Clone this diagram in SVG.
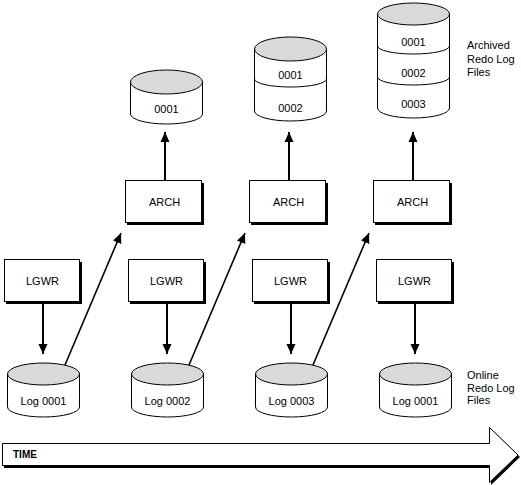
<svg xmlns="http://www.w3.org/2000/svg" width="521" height="485" viewBox="0 0 521 485">
<style>
.box{fill:#fff;stroke:#000;stroke-width:1}
.sh{fill:#000}
.t{font-family:"Liberation Sans",Arial,sans-serif;font-size:11px;fill:#000}
.c{text-anchor:middle}
.body{fill:#fff;stroke:#000;stroke-width:1}
.top{fill:#d9d9d9;stroke:#000;stroke-width:1}
.div{fill:none;stroke:#000;stroke-width:1}
.ln{stroke:#000;stroke-width:2;fill:none}
.dg{stroke:#000;stroke-width:1.6;fill:none}
</style>
<defs>
<marker id="ah" markerUnits="userSpaceOnUse" markerWidth="11" markerHeight="10" refX="10" refY="5" orient="auto" viewBox="0 0 11 10">
<path d="M0,0.5 L10,5 L0,9.5 z" fill="#000"/>
</marker>
</defs>
<rect width="521" height="485" fill="#fff"/>

<!-- LGWR boxes -->
<g id="lgwr1"><rect class="sh" x="6" y="262" width="76" height="42"/><rect class="box" x="4.5" y="259.5" width="75" height="42"/><text class="t c" x="42.5" y="285">LGWR</text></g>
<g id="lgwr2"><rect class="sh" x="130" y="262" width="76" height="42"/><rect class="box" x="128.5" y="259.5" width="75" height="42"/><text class="t c" x="166.5" y="285">LGWR</text></g>
<g id="lgwr3"><rect class="sh" x="254" y="262" width="76" height="42"/><rect class="box" x="252.5" y="259.5" width="75" height="42"/><text class="t c" x="290.5" y="285">LGWR</text></g>
<g id="lgwr4"><rect class="sh" x="378" y="262" width="76" height="42"/><rect class="box" x="376.5" y="259.5" width="75" height="42"/><text class="t c" x="414.5" y="285">LGWR</text></g>

<!-- ARCH boxes -->
<g id="arch1"><rect class="sh" x="127" y="183" width="77" height="42"/><rect class="box" x="125.5" y="180.5" width="76" height="42"/><text class="t c" x="164.5" y="206">ARCH</text></g>
<g id="arch2"><rect class="sh" x="251" y="183" width="77" height="42"/><rect class="box" x="249.5" y="180.5" width="76" height="42"/><text class="t c" x="288.5" y="206">ARCH</text></g>
<g id="arch3"><rect class="sh" x="375" y="183" width="77" height="42"/><rect class="box" x="373.5" y="180.5" width="76" height="42"/><text class="t c" x="412.5" y="206">ARCH</text></g>

<!-- Online redo log cylinders -->
<g id="log1"><path class="body" d="M7.5,374 L7.5,407 A36,10 0 0 0 79.5,407 L79.5,374 Z"/><ellipse class="top" cx="43.5" cy="374" rx="36" ry="11"/><text class="t c" x="43.5" y="405">Log 0001</text></g>
<g id="log2"><path class="body" d="M131.5,374 L131.5,407 A36,10 0 0 0 203.5,407 L203.5,374 Z"/><ellipse class="top" cx="167.5" cy="374" rx="36" ry="11"/><text class="t c" x="167.5" y="405">Log 0002</text></g>
<g id="log3"><path class="body" d="M255.5,374 L255.5,407 A36,10 0 0 0 327.5,407 L327.5,374 Z"/><ellipse class="top" cx="291.5" cy="374" rx="36" ry="11"/><text class="t c" x="291.5" y="405">Log 0003</text></g>
<g id="log4"><path class="body" d="M379.5,374 L379.5,407 A36,10 0 0 0 451.5,407 L451.5,374 Z"/><ellipse class="top" cx="415.5" cy="374" rx="36" ry="11"/><text class="t c" x="415.5" y="405">Log 0001</text></g>

<!-- Archived cylinders -->
<g id="arc1"><path class="body" d="M130.5,82 L130.5,114 A36,10 0 0 0 202.5,114 L202.5,82 Z"/><ellipse class="top" cx="166.5" cy="82" rx="36" ry="12"/><text class="t c" x="166.5" y="113">0001</text></g>
<g id="arc2"><path class="body" d="M254.5,49 L254.5,111 A36,10 0 0 0 326.5,111 L326.5,49 Z"/><path class="div" d="M254.5,79 A36,8 0 0 0 326.5,79"/><ellipse class="top" cx="290.5" cy="49" rx="36" ry="12"/><text class="t c" x="290.5" y="79">0001</text><text class="t c" x="290.5" y="112">0002</text></g>
<g id="arc3"><path class="body" d="M377.5,14 L377.5,108 A36,10 0 0 0 449.5,108 L449.5,14 Z"/><path class="div" d="M377.5,46 A36,8 0 0 0 449.5,46"/><path class="div" d="M377.5,77 A36,8 0 0 0 449.5,77"/><ellipse class="top" cx="413.5" cy="14" rx="36" ry="11"/><text class="t c" x="413.5" y="46">0001</text><text class="t c" x="413.5" y="77">0002</text><text class="t c" x="413.5" y="108">0003</text></g>

<!-- Labels -->
<g id="label-archived"><text class="t" x="467" y="49">Archived</text><text class="t" x="467" y="62.5">Redo Log</text><text class="t" x="467" y="76">Files</text></g>
<g id="label-online"><text class="t" x="467" y="379">Online</text><text class="t" x="467" y="391.5">Redo Log</text><text class="t" x="467" y="404">Files</text></g>

<!-- Connectors -->
<g id="connectors">
<line class="ln" x1="43" y1="304" x2="43" y2="354" marker-end="url(#ah)"/>
<line class="ln" x1="167" y1="304" x2="167" y2="354" marker-end="url(#ah)"/>
<line class="ln" x1="291" y1="304" x2="291" y2="354" marker-end="url(#ah)"/>
<line class="ln" x1="415" y1="304" x2="415" y2="354" marker-end="url(#ah)"/>
<line class="ln" x1="165" y1="180" x2="165" y2="132" marker-end="url(#ah)"/>
<line class="ln" x1="289" y1="180" x2="289" y2="132" marker-end="url(#ah)"/>
<line class="ln" x1="413" y1="180" x2="413" y2="132" marker-end="url(#ah)"/>
<line class="dg" x1="65" y1="365" x2="121" y2="233" marker-end="url(#ah)"/>
<line class="dg" x1="189" y1="365" x2="245" y2="233" marker-end="url(#ah)"/>
<line class="dg" x1="313" y1="365" x2="369" y2="233" marker-end="url(#ah)"/>
</g>

<!-- Time arrow -->
<g id="time">
<polygon points="4,445 491,445 491,429 520,457 491,485 491,468 4,468" fill="#000"/>
<polygon points="2.5,443.5 489.5,443.5 489.5,427.5 518,455 489.5,482.5 489.5,465.5 2.5,465.5" fill="#fff" stroke="#000" stroke-width="1"/>
<text x="13" y="458" font-family="'Liberation Sans',Arial,sans-serif" font-size="10" font-weight="bold">TIME</text>
</g>
</svg>
